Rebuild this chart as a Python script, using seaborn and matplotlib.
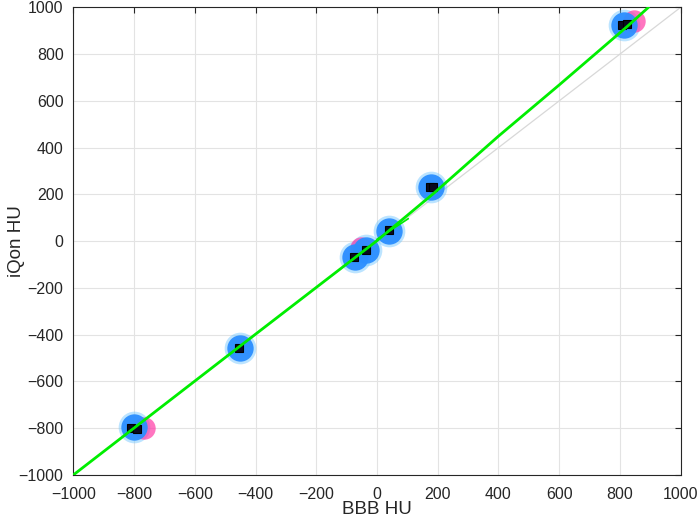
import matplotlib
matplotlib.use("Agg")
import matplotlib.pyplot as plt
import seaborn as sns

# cluster clouds (BBB HU, iQon HU)
blue_bbb = [-800, -452, -72, -35, 40, 178, 815]
blue_iqon = [-795, -455, -68, -38, 45, 230, 925]

magenta_bbb = [-768, -52, 845]
magenta_iqon = [-800, -28, 940]

# black markers at the cluster means
mean_bbb = [-810, -790, -455, -75, -35, 40, 176, 184, 808, 822]
mean_iqon = [-800, -803, -455, -68, -36, 49, 232, 230, 925, 928]
mean_err = [10, 10, 8, 8, 8, 8, 6, 6, 10, 10]

# green fit line and the short local segment
fit_bbb = [-1000, -450, 0, 190, 400, 600, 823, 894]
fit_iqon = [-1000, -448, 2, 208, 449, 668, 917, 1000]
seg_bbb = [0, 103]
seg_iqon = [8, 96]

# identity line
ident = [-1000, 1000]

ticks = list(range(-1000, 1001, 200))

sns.set_theme(style="white")
plt.rcParams["font.family"] = ["Liberation Sans", "DejaVu Sans"]

fig = plt.figure(figsize=(7.0, 5.26), dpi=100)
ax = fig.add_axes([0.1047, 0.097, 0.8677, 0.8891])

ax.grid(True, color="#e3e3e3", linewidth=0.8)
ax.set_axisbelow(True)

sns.lineplot(x=ident, y=ident, ax=ax, color="#d8d8d8", linewidth=0.9, zorder=1)

# light halo, magenta, blue core
sns.scatterplot(x=blue_bbb, y=blue_iqon, ax=ax, s=520, color="#6cc4ff",
                alpha=0.45, linewidth=0, zorder=2)
sns.scatterplot(x=magenta_bbb, y=magenta_iqon, ax=ax, s=260, color="#ff3aa6",
                alpha=0.7, linewidth=0, zorder=3)
sns.scatterplot(x=blue_bbb, y=blue_iqon, ax=ax, s=360, color="#2b8eff",
                alpha=0.95, linewidth=0, zorder=4)

ax.errorbar(mean_bbb, mean_iqon, xerr=mean_err, yerr=mean_err, fmt="s",
            ms=5.5, mfc="#0a0a20", mec="black", mew=0.8, ecolor="black",
            elinewidth=0.8, capsize=0, zorder=5)

sns.lineplot(x=fit_bbb, y=fit_iqon, ax=ax, sort=False, estimator=None,
             color="#00ee00", linewidth=2.0, zorder=6)
sns.lineplot(x=seg_bbb, y=seg_iqon, ax=ax, sort=False, estimator=None,
             color="#00ee00", linewidth=1.2, zorder=6)

ax.set_xlim(-1000, 1000)
ax.set_ylim(-1000, 1000)
ax.set_xticks(ticks)
ax.set_yticks(ticks)
ax.tick_params(direction="in", length=4, width=0.8, colors="#262626",
               labelsize=11.5, top=True, right=True, pad=7)
ax.tick_params(axis="x", pad=9)
for sp in ax.spines.values():
    sp.set_color("#262626")
    sp.set_linewidth(0.8)

ax.set_xlabel("BBB HU", fontsize=13.5, color="#262626")
ax.set_ylabel("iQon HU", fontsize=13.5, color="#262626")
ax.xaxis.set_label_coords(0.5, -0.056)
ax.yaxis.set_label_coords(-0.08, 0.5)

fig.savefig("out.png", dpi=100)
